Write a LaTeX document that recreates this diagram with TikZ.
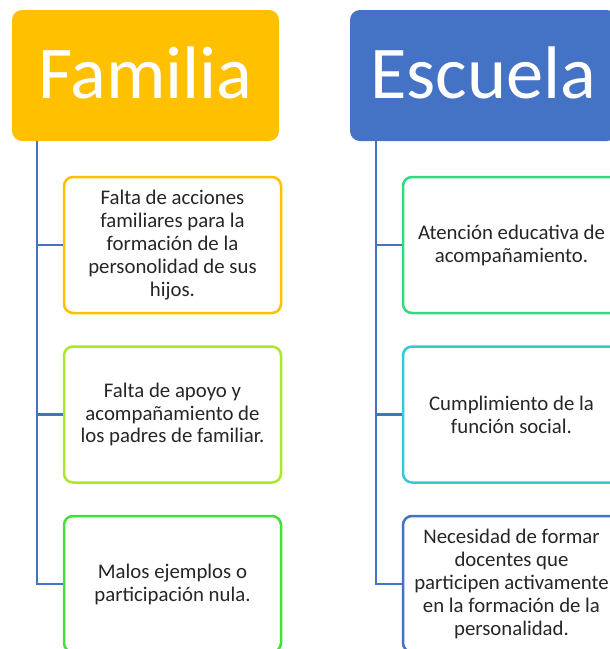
\documentclass[tikz,border=0pt]{standalone}
\usepackage{fontspec}
\setmainfont{Carlito}
\definecolor{famc}{HTML}{FFC000}
\definecolor{escc}{HTML}{4472C4}
\definecolor{linec}{HTML}{4472C4}
\definecolor{fa}{HTML}{FFC000}
\definecolor{fb}{HTML}{AEE62A}
\definecolor{fcc}{HTML}{44E03A}
\definecolor{ea}{HTML}{2EDC7E}
\definecolor{eb}{HTML}{35C8D6}
\definecolor{ec}{HTML}{4472C4}
\begin{document}
\begin{tikzpicture}[x=1pt,y=-1pt,
  title/.style={fill=#1, rounded corners=10pt, minimum width=267pt, minimum height=131pt,
    inner sep=0pt, text=white, text height=55pt, text depth=10pt,
    font=\fontsize{74.5}{90}\selectfont},
  item/.style={draw=#1, line width=2.5pt, fill=white, rounded corners=9pt,
    minimum width=217pt, minimum height=136pt, inner sep=0pt, text=black!85,
    align=center, font=\fontsize{20.8}{22.9}\selectfont},
  conn/.style={draw=linec, line width=2.8pt}]
\useasboundingbox (0,0) rectangle (610,649);
\clip (0,0) rectangle (610,649);
\node[title=famc] (fam) at (145.5,75.5) {Familia};
\node[title=escc] (esc) at (483.5,75.5) {Escuela};
\node[item=fa] (f1) at (172.5,245) {Falta de acciones\\familiares para la\\formación de la\\personolidad de sus\\hijos.};
\node[item=fb] (f2) at (172.5,414.5) {Falta de apoyo y\\acompañamiento de\\los padres de familiar.};
\node[item=fcc] (f3) at (172.5,584) {Malos ejemplos o\\participación nula.};
\node[item=ea] (e1) at (511.5,245) {Atención educativa de\\acompañamiento.};
\node[item=eb] (e2) at (511.5,414.5) {Cumplimiento de la\\función social.};
\node[item=ec] (e3) at (511.5,584) {Necesidad de formar\\docentes que\\participen activamente\\en la formación de la\\personalidad.};
\coordinate (ft) at (37,141);
\coordinate (et) at (376,141);
\draw[conn] (ft) |- (f3.west);
\draw[conn] (ft |- f1.west) -- (f1.west);
\draw[conn] (ft |- f2.west) -- (f2.west);
\draw[conn] (et) |- (e3.west);
\draw[conn] (et |- e1.west) -- (e1.west);
\draw[conn] (et |- e2.west) -- (e2.west);
\end{tikzpicture}
\end{document}
